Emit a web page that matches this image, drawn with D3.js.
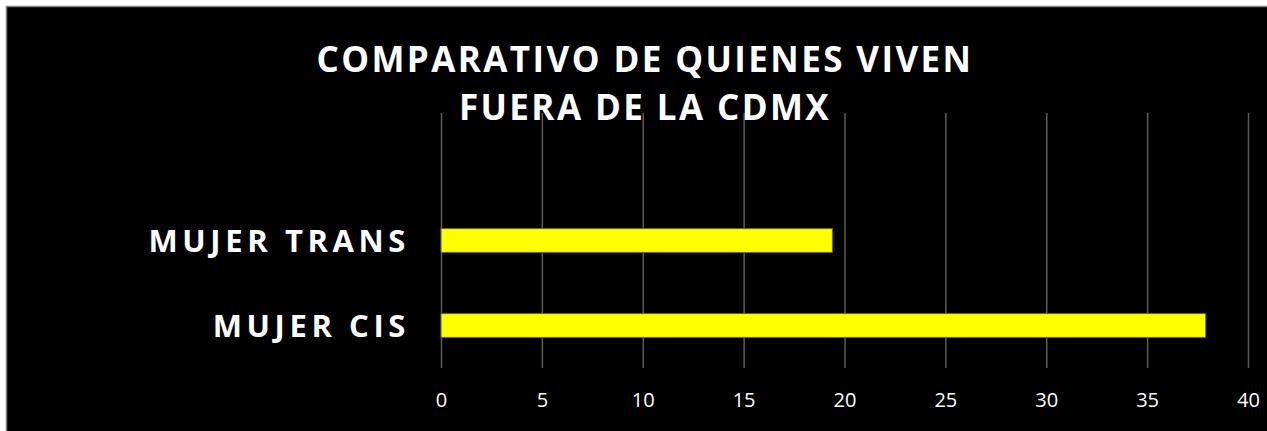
<!DOCTYPE html>
<html>
<head>
<meta charset="utf-8">
<title>Comparativo</title>
<script src="https://cdn.jsdelivr.net/npm/d3@7"></script>
<style>
html, body { margin: 0; padding: 0; background: #fff; overflow: hidden; }
svg text { font-family: "Open Sans", "DejaVu Sans", sans-serif; fill: #fff; }
.grid line { stroke: #5a5a5a; stroke-width: 1.5; }
.grid path { display: none; }
.xaxis path, .xaxis line { display: none; }
.xaxis text { font-size: 20px; }
.cat { font-size: 31px; font-weight: bold; letter-spacing: 4.6px; }
.title { font-size: 35px; font-weight: bold; letter-spacing: 2.4px; }
</style>
</head>
<body>
<script>
// data
var categories = ["MUJER CIS", "MUJER TRANS"];
var values = [37.9, 19.4];
var ticks = [0, 5, 10, 15, 20, 25, 30, 35, 40];
var titleLines = ["COMPARATIVO DE QUIENES VIVEN", "FUERA DE LA CDMX"];

var W = 1267, H = 431;
var plotLeft = 441, plotRight = 1248, plotTop = 113, plotBottom = 368;

var svg = d3.select("body").append("svg")
    .attr("width", W)
    .attr("height", H);

// background + border
svg.append("rect")
    .attr("x", 6.5).attr("y", 6.5)
    .attr("width", W + 10).attr("height", H + 10)
    .attr("fill", "#000")
    .attr("stroke", "#7f7f7f")
    .attr("stroke-width", 1.5);

var xScale = d3.scaleLinear()
    .domain([0, 40])
    .range([plotLeft, plotRight]);

var yScale = d3.scaleBand()
    .domain(categories)
    .range([plotBottom, 198])
    .paddingInner(0.72)
    .paddingOuter(0.36);

// gridlines
svg.append("g")
    .attr("class", "grid")
    .attr("transform", "translate(0," + plotBottom + ")")
    .call(d3.axisBottom(xScale)
        .tickValues(ticks)
        .tickSize(-(plotBottom - plotTop))
        .tickFormat(""));

// tick labels
svg.append("g")
    .attr("class", "xaxis")
    .attr("transform", "translate(0," + plotBottom + ")")
    .call(d3.axisBottom(xScale)
        .tickValues(ticks)
        .tickSize(0)
        .tickPadding(25));

svg.selectAll(".xaxis text").attr("fill", "#fff");

// bars
svg.selectAll(".bar")
    .data(values)
  .enter().append("rect")
    .attr("class", "bar")
    .attr("x", xScale(0))
    .attr("y", function(d, i) { return yScale(categories[i]); })
    .attr("width", function(d) { return xScale(d) - xScale(0); })
    .attr("height", yScale.bandwidth())
    .attr("fill", "#ffff00")
    .attr("stroke", "#6b6b00")
    .attr("stroke-width", 1);

// category labels
svg.selectAll(".cat")
    .data(categories)
  .enter().append("text")
    .attr("class", "cat")
    .attr("x", 410)
    .attr("y", function(d) { return yScale(d) + yScale.bandwidth() / 2; })
    .attr("dy", "0.38em")
    .attr("text-anchor", "end")
    .text(function(d) { return d; });

// title
svg.selectAll(".title")
    .data(titleLines)
  .enter().append("text")
    .attr("class", "title")
    .attr("x", 645)
    .attr("y", function(d, i) { return 72 + i * 48; })
    .attr("text-anchor", "middle")
    .text(function(d) { return d; });
</script>
</body>
</html>
